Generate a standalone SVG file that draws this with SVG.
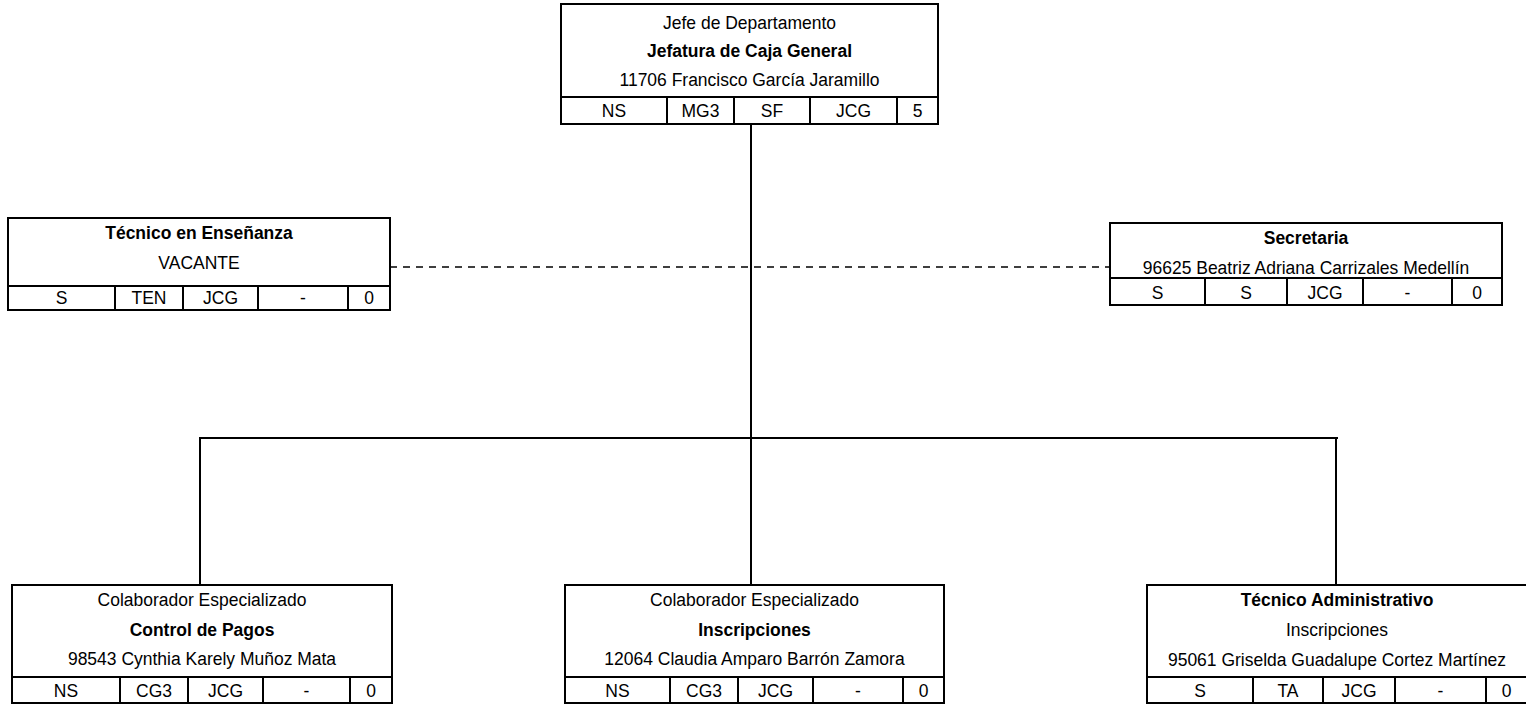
<svg xmlns="http://www.w3.org/2000/svg" width="1526" height="705" viewBox="0 0 1526 705">
<style>
  .box { fill: #ffffff; stroke: #000000; stroke-width: 2; }
  .div { stroke: #000000; stroke-width: 2; fill: none; }
  .conn { stroke: #000000; stroke-width: 2; fill: none; }
  .dash { stroke: #000000; stroke-width: 1.5; fill: none; stroke-dasharray: 7 6; }
  text { font-family: "Liberation Sans", Arial, sans-serif; font-size: 17.5px; fill: #000000; text-anchor: middle; }
  .b { font-weight: bold; }
</style>
<rect width="1526" height="705" fill="#ffffff"/>
<g id="connectors">
  <line class="conn" x1="751" y1="124" x2="751" y2="585"/>
  <line class="conn" x1="200" y1="438" x2="1338" y2="438"/>
  <line class="conn" x1="200" y1="437" x2="200" y2="585"/>
  <line class="conn" x1="1336" y1="437" x2="1336" y2="585"/>
  <line class="dash" x1="390" y1="267" x2="1110" y2="267"/>
</g>
<g id="jefe">
  <rect class="box" x="561" y="4" width="377" height="120"/>
  <line class="div" x1="561" y1="97" x2="938" y2="97"/>
  <line class="div" x1="667" y1="97" x2="667" y2="124"/>
  <line class="div" x1="734" y1="97" x2="734" y2="124"/>
  <line class="div" x1="810" y1="97" x2="810" y2="124"/>
  <line class="div" x1="897" y1="97" x2="897" y2="124"/>
  <text transform="translate(749.5 29) scale(1 1.1)">Jefe de Departamento</text>
  <text class="b" transform="translate(749.5 57) scale(1 1.1)">Jefatura de Caja General</text>
  <text transform="translate(749.5 86) scale(1 1.1)">11706 Francisco García Jaramillo</text>
  <text transform="translate(614 117) scale(1 1.1)">NS</text>
  <text transform="translate(700.5 117) scale(1 1.1)">MG3</text>
  <text transform="translate(772 117) scale(1 1.1)">SF</text>
  <text transform="translate(853.5 117) scale(1 1.1)">JCG</text>
  <text transform="translate(917.5 117) scale(1 1.1)">5</text>
</g>
<g id="tecnico-ensenanza">
  <rect class="box" x="8" y="218" width="382" height="92"/>
  <line class="div" x1="8" y1="286" x2="390" y2="286"/>
  <line class="div" x1="115" y1="286" x2="115" y2="310"/>
  <line class="div" x1="183" y1="286" x2="183" y2="310"/>
  <line class="div" x1="258" y1="286" x2="258" y2="310"/>
  <line class="div" x1="348" y1="286" x2="348" y2="310"/>
  <text class="b" transform="translate(199 239) scale(1 1.1)">Técnico en Enseñanza</text>
  <text transform="translate(199 269) scale(1 1.1)">VACANTE</text>
  <text transform="translate(61.5 304) scale(1 1.1)">S</text>
  <text transform="translate(149 304) scale(1 1.1)">TEN</text>
  <text transform="translate(220.5 304) scale(1 1.1)">JCG</text>
  <text transform="translate(303 304) scale(1 1.1)">-</text>
  <text transform="translate(369 304) scale(1 1.1)">0</text>
</g>
<g id="secretaria">
  <rect class="box" x="1110" y="223" width="392" height="82"/>
  <line class="div" x1="1110" y1="278" x2="1502" y2="278"/>
  <line class="div" x1="1205" y1="278" x2="1205" y2="305"/>
  <line class="div" x1="1287" y1="278" x2="1287" y2="305"/>
  <line class="div" x1="1363" y1="278" x2="1363" y2="305"/>
  <line class="div" x1="1452" y1="278" x2="1452" y2="305"/>
  <text class="b" transform="translate(1306 244) scale(1 1.1)">Secretaria</text>
  <text transform="translate(1306 274) scale(1 1.1)">96625 Beatriz Adriana Carrizales Medellín</text>
  <text transform="translate(1157.5 299) scale(1 1.1)">S</text>
  <text transform="translate(1246 299) scale(1 1.1)">S</text>
  <text transform="translate(1325 299) scale(1 1.1)">JCG</text>
  <text transform="translate(1407.5 299) scale(1 1.1)">-</text>
  <text transform="translate(1477 299) scale(1 1.1)">0</text>
</g>
<g id="control-pagos">
  <rect class="box" x="12" y="585" width="380" height="118"/>
  <line class="div" x1="12" y1="677" x2="392" y2="677"/>
  <line class="div" x1="120" y1="677" x2="120" y2="703"/>
  <line class="div" x1="188" y1="677" x2="188" y2="703"/>
  <line class="div" x1="263" y1="677" x2="263" y2="703"/>
  <line class="div" x1="350" y1="677" x2="350" y2="703"/>
  <text transform="translate(202 606) scale(1 1.1)">Colaborador Especializado</text>
  <text class="b" transform="translate(202 636) scale(1 1.1)">Control de Pagos</text>
  <text transform="translate(202 665) scale(1 1.1)">98543 Cynthia Karely Muñoz Mata</text>
  <text transform="translate(66 697) scale(1 1.1)">NS</text>
  <text transform="translate(154 697) scale(1 1.1)">CG3</text>
  <text transform="translate(225.5 697) scale(1 1.1)">JCG</text>
  <text transform="translate(306.5 697) scale(1 1.1)">-</text>
  <text transform="translate(371 697) scale(1 1.1)">0</text>
</g>
<g id="inscripciones">
  <rect class="box" x="565" y="585" width="379" height="118"/>
  <line class="div" x1="565" y1="677" x2="944" y2="677"/>
  <line class="div" x1="670" y1="677" x2="670" y2="703"/>
  <line class="div" x1="738" y1="677" x2="738" y2="703"/>
  <line class="div" x1="813" y1="677" x2="813" y2="703"/>
  <line class="div" x1="903" y1="677" x2="903" y2="703"/>
  <text transform="translate(754.5 606) scale(1 1.1)">Colaborador Especializado</text>
  <text class="b" transform="translate(754.5 636) scale(1 1.1)">Inscripciones</text>
  <text transform="translate(754.5 665) scale(1 1.1)">12064 Claudia Amparo Barrón Zamora</text>
  <text transform="translate(617.5 697) scale(1 1.1)">NS</text>
  <text transform="translate(704 697) scale(1 1.1)">CG3</text>
  <text transform="translate(775.5 697) scale(1 1.1)">JCG</text>
  <text transform="translate(858 697) scale(1 1.1)">-</text>
  <text transform="translate(923.5 697) scale(1 1.1)">0</text>
</g>
<g id="tecnico-administrativo">
  <rect class="box" x="1147" y="585" width="381" height="118"/>
  <line class="div" x1="1147" y1="677" x2="1528" y2="677"/>
  <line class="div" x1="1253" y1="677" x2="1253" y2="703"/>
  <line class="div" x1="1323" y1="677" x2="1323" y2="703"/>
  <line class="div" x1="1395" y1="677" x2="1395" y2="703"/>
  <line class="div" x1="1486" y1="677" x2="1486" y2="703"/>
  <text class="b" transform="translate(1337 606) scale(1 1.1)">Técnico Administrativo</text>
  <text transform="translate(1337 636) scale(1 1.1)">Inscripciones</text>
  <text transform="translate(1337 666) scale(1 1.1)">95061 Griselda Guadalupe Cortez Martínez</text>
  <text transform="translate(1200 697) scale(1 1.1)">S</text>
  <text transform="translate(1288 697) scale(1 1.1)">TA</text>
  <text transform="translate(1359 697) scale(1 1.1)">JCG</text>
  <text transform="translate(1440.5 697) scale(1 1.1)">-</text>
  <text transform="translate(1506.5 697) scale(1 1.1)">0</text>
</g>
</svg>
